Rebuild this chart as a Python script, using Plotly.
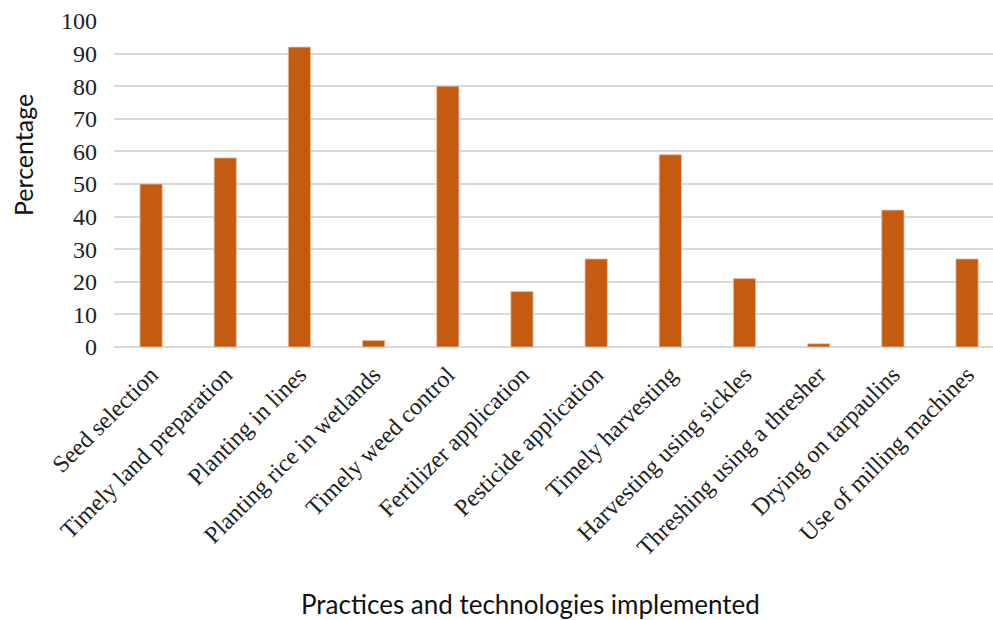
import plotly.graph_objects as go

categories = ["Seed selection", "Timely land preparation", "Planting in lines",
              "Planting rice in wetlands", "Timely weed control", "Fertilizer application",
              "Pesticide application", "Timely harvesting", "Harvesting using sickles",
              "Threshing using a thresher", "Drying on tarpaulins", "Use of milling machines"]
values = [50, 58, 92, 2, 80, 17, 27, 59, 21, 1, 42, 27]
y_ticks = [0, 10, 20, 30, 40, 50, 60, 70, 80, 90, 100]

fig = go.Figure(go.Bar(
    x=categories, y=values, width=0.3,
    marker=dict(color="#C55A11", line=dict(color="#EBC0A3", width=0.8)),
))

serif = "Liberation Serif, Times New Roman, serif"
sans = "Lato, Open Sans, Liberation Sans, sans-serif"
fig.update_layout(
    width=993, height=620,
    margin=dict(l=114, r=0, t=21, b=273),
    paper_bgcolor="white", plot_bgcolor="white",
    showlegend=False,
    xaxis=dict(
        range=[-0.5, 11.35], tickangle=-45,
        tickfont=dict(family=serif, size=24, color="#222"),
        showgrid=False, showline=False, ticks="", ticklabelstandoff=8,
    ),
    yaxis=dict(
        range=[0, 100], tickvals=y_ticks,
        tickfont=dict(family=serif, size=24, color="#222"),
        showgrid=True, gridcolor="#D9D9D9", gridwidth=1.5,
        zeroline=True, zerolinecolor="#D9D9D9", zerolinewidth=1.5,
        ticks="", ticklabelstandoff=16,
    ),
    annotations=[
        dict(text="Percentage", xref="paper", yref="paper",
             showarrow=False, textangle=-90,
             font=dict(family=sans, size=25, color="#111")),
        dict(text="Practices and technologies implemented", xref="paper", yref="paper",
             showarrow=False,
             font=dict(family=sans, size=26, color="#111")),
    ],
)
# position annotations in pixel terms converted to paper coords
pw, ph = 993 - 114, 620 - 21 - 273
a0 = fig.layout.annotations[0]
a0.x = (23 - 114) / pw
a0.y = (347 - 155) / ph
a0.xanchor = "center"; a0.yanchor = "middle"
a1 = fig.layout.annotations[1]
a1.x = (530 - 114) / pw
a1.y = (347 - 604) / ph
a1.xanchor = "center"; a1.yanchor = "middle"

fig.write_html("out.html")
